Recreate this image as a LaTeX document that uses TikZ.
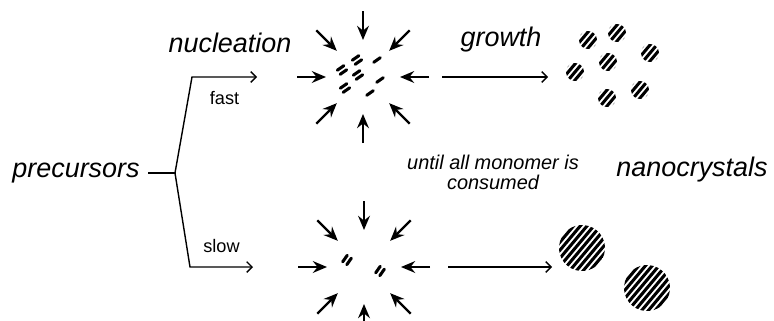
\documentclass[tikz,border=0pt]{standalone}
\usepackage{fontspec}
\setmainfont{Liberation Sans}
\usetikzlibrary{arrows.meta, positioning}

\begin{document}
\begin{tikzpicture}[
    label/.style={font=\fontsize{23}{26}\selectfont\itshape, inner sep=0pt},
    note/.style={font=\fontsize{17}{17}\selectfont\itshape, align=center, inner sep=0pt},
    rate/.style={font=\fontsize{15.5}{16}\selectfont, inner sep=0pt},
    feed/.style={draw, line width=1.2pt},
    tip/.style={-{Straight Barb[length=4.5pt,width=9pt]}},
    inward/.style={draw, line width=2pt, -{Stealth[length=12pt,width=10pt]}},
    bar/.style={line width=2.6pt, line cap=round},
    stripe/.style={line width=2.6pt},
    pics/nuclei/.style={code={
        \foreach \k in {1,...,#1}
            \draw[bar] (-0.12,{(\k-(#1+1)/2)*0.15}) -- (0.12,{(\k-(#1+1)/2)*0.15});
    }},
    pics/crystal/.style={code={
        \clip (0,0) circle (#1);
        \foreach \k in {-5,...,5}
            \draw[stripe] (-1,\k*0.155) -- (1,\k*0.155);
    }}
]
\useasboundingbox (0,0) rectangle (23.22,9.6);

% precursors and the fast / slow fork
\node[label] (prec) at (2.28,4.41) {precursors};
\coordinate (fork) at (5.25,4.41);
\coordinate (forktop) at (5.76,7.29);
\coordinate (forkbot) at (5.70,1.59);
\coordinate (fastin) at (7.71,7.29);
\coordinate (slowin) at (7.59,1.59);

\draw[feed, shorten <=7pt] (prec.east) -- (fork);
\draw[feed, tip] (fork) -- (forktop) -- node[rate, below=0.42cm] {fast} (fastin);
\draw[feed, tip] (fork) -- (forkbot) -- node[rate, above=0.42cm] {slow} (slowin);

\node[label] (nucl) at (6.90,8.31) {nucleation};

% monomer flowing in on the nuclei
\coordinate (fastc) at (10.89,7.29);
\coordinate (slowc) at (10.92,1.59);
\foreach \a in {0,45,...,315} {
    \draw[inward] ([shift={(\a:1.98)}]fastc) -- ([shift={(\a:1.11)}]fastc);
    \draw[inward] ([shift={(\a:1.98)}]slowc) -- ([shift={(\a:1.11)}]slowc);
}

% nuclei
\foreach \x/\y/\n in {-0.18/0.51/2, 0.42/0.51/1, -0.63/0.21/2, -0.15/0.06/2,
                      -0.54/-0.33/2, 0.51/-0.09/1, 0.21/-0.48/1}
    \pic[rotate=35] at ([shift={(\x,\y)}]fastc) {nuclei=\n};
\foreach \x/\y in {-0.51/0.21, 0.48/-0.12}
    \pic[rotate=55] at ([shift={(\x,\y)}]slowc) {nuclei=2};

% growth
\coordinate (fastout) at (16.44,7.29);
\coordinate (slowout) at (16.56,1.59);
\draw[feed, tip] ([xshift=2.37cm]fastc) -- (fastout);
\draw[feed, tip] ([xshift=2.52cm]slowc) -- (slowout);

\node[label] (grow) at (15.03,8.40) {growth};
\node[note] (until) at (14.79,4.44) {until all monomer is\\consumed};
\node[label] (nano) at (20.76,4.50) {nanocrystals};

% nanocrystals
\foreach \x/\y in {17.64/8.40, 18.51/8.61, 19.50/8.01, 18.24/7.74,
                   17.25/7.44, 19.20/6.90, 18.21/6.66}
    \pic[rotate=50] at (\x,\y) {crystal=0.27};
\pic[rotate=50] at (17.46,2.16) {crystal=0.69};
\pic[rotate=50] at (19.41,0.96) {crystal=0.69};

\end{tikzpicture}
\end{document}
